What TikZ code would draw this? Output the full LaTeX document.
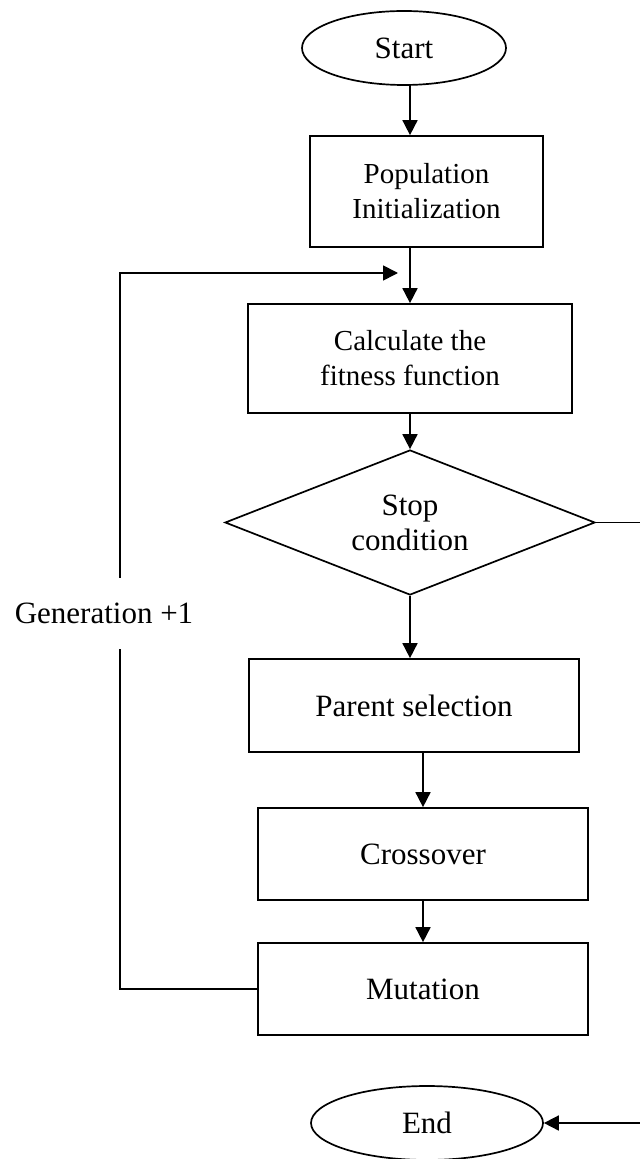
\documentclass[tikz,border=0pt]{standalone}
\usepackage{fontspec}
\setmainfont{Liberation Serif}
\usetikzlibrary{shapes.geometric, arrows.meta}

\begin{document}
\begin{tikzpicture}[x=0.5pt, y=-0.5pt, line width=0.85pt,
    every node/.style={font=\fontsize{15.5}{17.5}\selectfont, align=center, inner sep=0pt},
    box/.style={draw, rectangle},
    smalltext/.style={font=\fontsize{14.5}{17.5}\selectfont},
    term/.style={draw, ellipse},
    flow/.style={-{Triangle[length=7.5pt,width=7.5pt]}}]
\useasboundingbox (0,0) rectangle (640,1159);
% Draw nodes
\node[term, minimum width=102pt, minimum height=37pt] (start) at (404,48) {Start};
\node[box, smalltext, minimum width=116.5pt, minimum height=55.5pt] (popinit) at (426.5,191.5) {Population\\Initialization};
\node[box, smalltext, minimum width=162pt, minimum height=54.5pt] (fitness) at (410,358.5) {Calculate the\\fitness function};
\node[draw, diamond, aspect=2.55, minimum width=185pt, minimum height=72.5pt] (stopcond) at (410,522.5) {Stop\\condition};
\node[box, minimum width=165pt, minimum height=46.5pt] (parentsel) at (414,705.5) {Parent selection};
\node[box, minimum width=165pt, minimum height=46pt] (crossover) at (423,854) {Crossover};
\node[box, minimum width=165pt, minimum height=46pt] (mutation) at (423,989) {Mutation};
\node[term, minimum width=116pt, minimum height=37pt] (finish) at (427,1123) {End};
% Draw bend points
\coordinate (loopbot) at (120,989);
\coordinate (looptop) at (120,273);
\coordinate (loopend) at (398,273);
\coordinate (rtop) at (642,522.5);
\coordinate (rbot) at (642,1123);
% Draw arrows
\draw[flow] (start.south -| stopcond.north) -- (stopcond.north |- popinit.north);
\draw[flow] (popinit.south -| fitness.north) -- (fitness.north);
\draw[flow] (fitness.south) -- (stopcond.north);
\draw[flow] (stopcond.south) -- (stopcond.south |- parentsel.north);
\draw[flow] (crossover.north |- parentsel.south) -- (crossover.north);
\draw[flow] (crossover.south) -- (mutation.north);
\draw[flow] (mutation.west) -- (loopbot)
    -- node[pos=0.524, xshift=-8pt, fill=white, minimum height=35.5pt] {Generation +1} (looptop)
    -- (loopend);
\draw[flow] (stopcond.east) -- (rtop) -- (rbot) -- (finish.east);
\end{tikzpicture}
\end{document}
